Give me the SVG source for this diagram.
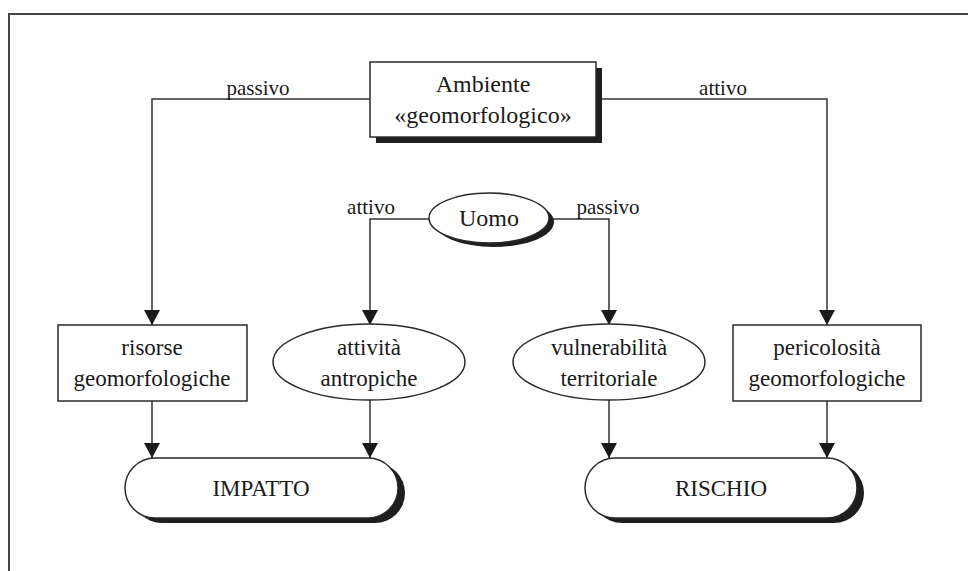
<svg xmlns="http://www.w3.org/2000/svg" width="968" height="571" viewBox="0 0 968 571">
<style>
.fr{fill:none;stroke:#444;stroke-width:2}
.nd{fill:#fff;stroke:#2a2a2a;stroke-width:1.5}
.sh{fill:#1e1e1e;stroke:none}
.cn{fill:none;stroke:#333;stroke-width:1.5}
text{font-family:"Liberation Serif","Times New Roman",serif;fill:#1a1a1a;text-anchor:middle}
.t{font-size:23px}
.a{font-size:24px}
.l{font-size:21px}
</style>
<defs>
<marker id="ah" viewBox="0 0 15 16" refX="15" refY="8" markerWidth="15" markerHeight="16" markerUnits="userSpaceOnUse" orient="auto">
<path d="M0,0 L15,8 L0,16 z" fill="#1a1a1a"/>
</marker>
</defs>
<rect width="968" height="571" fill="#fff"/>
<path class="fr" d="M8,14 H968 M9,14 V571"/>
<g id="connectors">
<path class="cn" d="M370,99 H152 V325" marker-end="url(#ah)"/>
<path class="cn" d="M596,99 H827 V325" marker-end="url(#ah)"/>
<path class="cn" d="M429,219 H370 V325" marker-end="url(#ah)"/>
<path class="cn" d="M549,219 H609 V325" marker-end="url(#ah)"/>
<path class="cn" d="M152,401 V458" marker-end="url(#ah)"/>
<path class="cn" d="M370,400 V458" marker-end="url(#ah)"/>
<path class="cn" d="M609,400 V458" marker-end="url(#ah)"/>
<path class="cn" d="M827,401 V458" marker-end="url(#ah)"/>
<text class="l" x="258" y="95">passivo</text>
<text class="l" x="723" y="95">attivo</text>
<text class="l" x="371" y="214">attivo</text>
<text class="l" x="608" y="214">passivo</text>
</g>
<g id="ambiente">
<rect class="sh" x="376" y="68" width="226" height="75"/>
<rect class="nd" x="370" y="62" width="226" height="75"/>
<text class="a" x="483" y="92">Ambiente</text>
<text class="a" x="483" y="123">«geomorfologico»</text>
</g>
<g id="uomo">
<ellipse class="sh" cx="494" cy="222" rx="60" ry="25"/>
<ellipse class="nd" cx="489" cy="218" rx="60" ry="25"/>
<text class="a" x="489" y="226">Uomo</text>
</g>
<g id="risorse">
<rect class="nd" x="58" y="325" width="189" height="76"/>
<text class="t" x="152" y="355">risorse</text>
<text class="t" x="152" y="386">geomorfologiche</text>
</g>
<g id="attivita">
<ellipse class="nd" cx="369" cy="362" rx="96" ry="38"/>
<text class="t" x="369" y="355">attività</text>
<text class="t" x="369" y="386">antropiche</text>
</g>
<g id="vulnerabilita">
<ellipse class="nd" cx="609" cy="362" rx="96" ry="38"/>
<text class="t" x="609" y="355">vulnerabilità</text>
<text class="t" x="609" y="386">territoriale</text>
</g>
<g id="pericolosita">
<rect class="nd" x="733" y="325" width="188" height="76"/>
<text class="t" x="827" y="355">pericolosità</text>
<text class="t" x="827" y="386">geomorfologiche</text>
</g>
<g id="impatto">
<rect class="sh" x="132" y="463" width="273" height="60" rx="30" ry="30"/>
<rect class="nd" x="125" y="458" width="273" height="60" rx="30" ry="30"/>
<text class="t" x="261" y="496">IMPATTO</text>
</g>
<g id="rischio">
<rect class="sh" x="592" y="463" width="272" height="60" rx="30" ry="30"/>
<rect class="nd" x="585" y="458" width="272" height="60" rx="30" ry="30"/>
<text class="t" x="721" y="496">RISCHIO</text>
</g>
</svg>
